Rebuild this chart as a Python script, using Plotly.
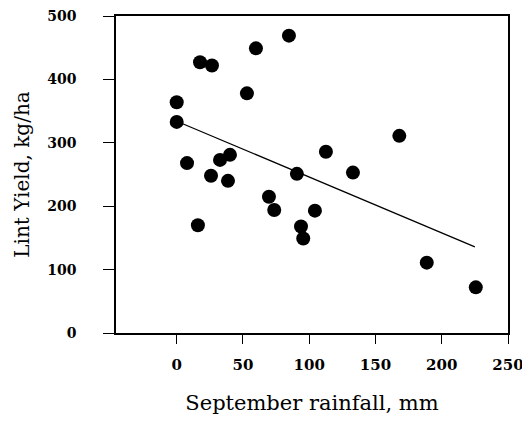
import plotly.graph_objects as go

rain_mm = [0, 0, 7.8, 16, 17.6, 26.6, 25.9, 32.7, 40.2, 38.7, 53, 59.8, 69.6, 73.6,
           84.7, 90.7, 93.8, 95.5, 104.3, 112.6, 133, 168, 188.7, 225.7]
lint_yield = [364, 333, 268, 170, 427, 422, 248, 273, 281, 240, 378, 449, 215, 194,
              469, 251, 168, 149, 193, 286, 253, 311, 111, 72]

fit_x = [0, 225]
fit_y = [334, 136]

x_ticks = [0, 50, 100, 150, 200, 250]
y_ticks = [0, 100, 200, 300, 400, 500]

font_family = "DejaVu Serif"

fig = go.Figure()
fig.add_trace(go.Scatter(x=fit_x, y=fit_y, mode="lines",
                         line=dict(color="black", width=1.3), showlegend=False))
fig.add_trace(go.Scatter(x=rain_mm, y=lint_yield, mode="markers",
                         marker=dict(color="black", size=14, line=dict(width=0)),
                         showlegend=False))

fig.update_layout(
    width=522, height=420,
    margin=dict(l=108, r=22, t=8, b=95),
    paper_bgcolor="white", plot_bgcolor="white",
    font=dict(family=font_family, color="black"),
    xaxis=dict(range=[-45.8, 250], tickvals=x_ticks, ticks="outside", ticklen=9,
               tickwidth=1.2, tickcolor="black", showline=True, linecolor="black",
               linewidth=1.5, mirror=True, showgrid=False, zeroline=False,
               automargin=False, ticklabeloverflow="allow",
               tickfont=dict(size=15, family=font_family, weight="bold"), ticklabelstandoff=8,
               title=dict(text="September rainfall, mm", font=dict(size=21, family=font_family),
                          standoff=23)),
    yaxis=dict(range=[0, 500], tickvals=y_ticks, ticks="outside", ticklen=11,
               tickwidth=1.2, tickcolor="black", showline=True, linecolor="black",
               linewidth=1.5, mirror=True, showgrid=False, zeroline=False,
               automargin=False, ticklabeloverflow="allow",
               tickfont=dict(size=14, family=font_family, weight="bold"), ticklabelstandoff=24,
               title=dict(text="Lint Yield, kg/ha", font=dict(size=20, family=font_family),
                          standoff=12)),
)

fig.write_html("out.html")
